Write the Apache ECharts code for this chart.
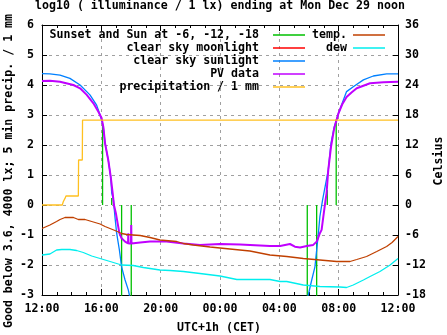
<!DOCTYPE html>
<html>
<head>
<meta charset="utf-8">
<script src="https://cdn.jsdelivr.net/npm/echarts@6/dist/echarts.min.js"></script>
<style>
  html, body { margin: 0; padding: 0; background: #fff; }
  #chart { width: 447px; height: 335px; }
</style>
</head>
<body>
<div id="chart"></div>
<script>
// Times are local clock times (CET) from Sun noon to Mon noon.
const sunTimes = ['16:05', '16:42', '17:22', '18:01', '05:53', '06:31', '07:14', '07:50'];
const sunTops  = [2.65, 0.23, -3.5, -3.5, -3.5, -3.5, 0.5, 2.85];

const moonTimes = [];
const moonLux = [];

const clearSunTimes = ['12:00','12:32','13:13','13:53','14:34','15:14','15:41','15:55','16:08','16:15','16:28','16:38','16:42','16:49','16:55','17:02','17:13','17:22','17:36','17:49','17:56','18:30',
  '05:20','05:44','05:57','06:11','06:24','06:31','06:38','06:44','06:55','07:18','07:29','07:42','07:59','08:19','08:32','08:59','09:40','10:20','11:14','12:00'];
const clearSunLux = [4.38,4.37,4.33,4.22,4.0,3.67,3.33,3.0,2.61,2.06,1.5,0.94,0.4,0.17,-0.39,-0.94,-1.5,-2.06,-2.5,-2.83,-3.1,-4.5,
  -4.5,-3.6,-3.0,-2.5,-2.06,-1.5,-0.94,-0.39,0.17,1.17,2.06,2.6,3.05,3.5,3.78,3.94,4.17,4.3,4.37,4.37];

const pvTimes = ['12:00','12:32','13:13','14:07','14:34','15:01','15:28','15:48','16:01','16:08','16:15','16:28','16:38','16:46','16:51','16:59','17:06','17:13','17:22','17:36','17:44',
  '17:48','17:49','17:50','18:00','18:01','18:02','18:37','19:17','20:24','21:32','22:39','00:00','01:21','02:42','03:22','04:03','04:43','05:03','05:24','05:51','06:17','06:31','06:37','06:44','06:51','06:58','07:07','07:11','07:18','07:29','07:42','07:59','08:14','08:32','08:52','09:13','10:07','11:01','12:00'];
const pvLux = [4.13,4.14,4.11,4.0,3.89,3.67,3.39,3.11,2.9,2.61,2.06,1.5,0.94,0.39,0.0,-0.28,-0.61,-0.94,-1.11,-1.22,-1.28,
  -1.28,-0.94,-1.28,-1.28,-0.67,-1.28,-1.25,-1.22,-1.22,-1.28,-1.33,-1.3,-1.32,-1.35,-1.37,-1.37,-1.3,-1.39,-1.42,-1.37,-1.33,-1.22,-1.1,-0.94,-0.83,-0.39,0.17,0.39,1.17,1.94,2.56,3.05,3.35,3.6,3.75,3.89,4.06,4.09,4.11];

const precipTimes = ['12:00','13:22','13:26','13:33','13:37','14:27','14:28','14:43','14:44','12:00'];
const precipMm = [0, 0, 0.11, 0.22, 0.3, 0.3, 1.5, 1.5, 2.83, 2.83];

const tempTimes = ['12:00','12:32','12:59','13:13','13:33','14:07','14:27','14:54','15:21','15:55','16:15','16:35','16:55','17:22','17:43','18:37','19:17','19:57','21:05','21:32','22:12','23:20','00:40','02:01','03:22','04:30','05:37','06:44','07:52','08:46','09:13','09:53','10:34','11:14','11:36','12:00'];
const tempC = [-4.7,-4.0,-3.3,-2.9,-2.5,-2.5,-2.9,-2.9,-3.3,-3.8,-4.3,-4.7,-5.1,-5.7,-5.9,-6.1,-6.5,-7.0,-7.3,-7.7,-8.0,-8.4,-8.8,-9.2,-10.0,-10.3,-10.7,-11.0,-11.3,-11.3,-10.9,-10.3,-9.3,-8.3,-7.5,-6.3];

const dewTimes = ['12:00','12:32','12:59','13:20','13:53','14:20','14:47','15:21','15:55','16:22','17:02','17:22','18:09','18:50','19:17','19:57','20:38','21:32','22:39','00:00','01:08','03:22','04:03','04:30','05:37','06:44','08:05','08:32','08:59','09:40','10:07','10:47','11:28','12:00'];
const dewC = [-10.0,-9.8,-9.0,-8.9,-8.9,-9.1,-9.5,-10.2,-10.7,-11.1,-11.7,-12.0,-12.1,-12.5,-12.7,-13.0,-13.1,-13.3,-13.7,-14.2,-14.9,-14.9,-15.3,-15.3,-16.0,-16.3,-16.4,-16.5,-16.0,-15.0,-14.3,-13.3,-12.0,-10.7];

const xTicksEvery = 4; // hours between labelled ticks

// Clock strings -> hours after the starting noon, kept increasing across midnight.
function toHours(times) {
  let prev = -1;
  return times.map(t => {
    const [h, m] = t.split(':').map(Number);
    let v = ((h - 12 + 24) % 24) + m / 60;
    while (v < prev) v += 24;
    prev = v;
    return v;
  });
}
function pairs(times, vals) {
  const hs = toHours(times);
  return hs.map((h, i) => [h, vals[i]]);
}
function sunSegments() {
  const hs = toHours(sunTimes);
  const out = [];
  hs.forEach((h, i) => { out.push([h, 0], [h, sunTops[i]], [h, '-']); });
  return out;
}

const FONT = 'DejaVu Sans Mono';
const FONT_CSS = 'bold 11.6px "' + FONT + '"';
const txt = { fontFamily: FONT, fontWeight: 'bold', fontSize: 11.6, color: '#000' };

const COLORS = {
  sun: '#00c000', moon: '#ff0000', clear: '#0080ff', pv: '#c000ff',
  precip: '#ffc020', temp: '#c04000', dew: '#00eeee'
};
const gridLine = { show: true, lineStyle: { color: '#a0a0a0', type: [3, 4], width: 1 } };

const chart = echarts.init(document.getElementById('chart'), null, { renderer: 'canvas' });

const legendRows = [
  ['Sunset and Sun at -6, -12, -18', COLORS.sun],
  ['clear sky moonlight', COLORS.moon],
  ['clear sky sunlight', COLORS.clear],
  ['PV data', COLORS.pv],
  ['precipitation / 1 mm', COLORS.precip]
];
const legendRows2 = [['temp.', COLORS.temp], ['dew', COLORS.dew]];
const legendGraphics = [];
function addLegend(rows, textRight, lineX0, lineX1) {
  rows.forEach((r, i) => {
    const y = 35 + i * 13;
    legendGraphics.push({
      type: 'text', x: textRight, y: y, z: 100,
      style: { text: r[0], align: 'right', verticalAlign: 'middle', fill: '#000', font: FONT_CSS }
    });
    legendGraphics.push({
      type: 'line', z: 100, shape: { x1: lineX0, y1: y, x2: lineX1, y2: y },
      style: { stroke: r[1], lineWidth: 1.5 }
    });
  });
}
addLegend(legendRows, 259, 273, 305);
addLegend(legendRows2, 347, 353, 385);

function textAt(x, y, s, rot) {
  return { type: 'text', x: x, y: y, rotation: rot || 0,
    style: { text: s, align: 'center', verticalAlign: 'middle', fill: '#000', font: FONT_CSS } };
}

const axisLineBlack = { show: true, onZero: false, lineStyle: { color: '#000', width: 1 } };

const option = {
  animation: false,
  backgroundColor: '#fff',
  textStyle: txt,
  grid: { left: 42, top: 25, right: 49, bottom: 40 },
  xAxis: [{
    type: 'value', min: 0, max: 24, interval: xTicksEvery, position: 'bottom',
    axisLine: axisLineBlack,
    axisTick: { show: true, inside: true, length: 6, lineStyle: { color: '#000' } },
    minorTick: { show: true, splitNumber: 4, length: 3, lineStyle: { color: '#000' } },
    axisLabel: Object.assign({ margin: 8, formatter: v => String((12 + v) % 24).padStart(2, '0') + ':00' }, txt),
    splitLine: gridLine
  }, {
    type: 'value', min: 0, max: 24, interval: xTicksEvery, position: 'top',
    axisLine: axisLineBlack,
    axisTick: { show: true, inside: true, length: 6, lineStyle: { color: '#000' } },
    minorTick: { show: true, splitNumber: 4, length: 3, lineStyle: { color: '#000' } },
    axisLabel: { show: false }, splitLine: { show: false }
  }],
  yAxis: [{
    type: 'value', min: -3, max: 6, interval: 1, position: 'left',
    axisLine: axisLineBlack,
    axisTick: { show: true, inside: true, length: 5, lineStyle: { color: '#000' } },
    axisLabel: Object.assign({ margin: 8 }, txt),
    splitLine: gridLine
  }, {
    type: 'value', min: -18, max: 36, interval: 6, position: 'right',
    axisLine: axisLineBlack,
    axisTick: { show: true, inside: true, length: 5, lineStyle: { color: '#000' } },
    axisLabel: Object.assign({ margin: 7 }, txt),
    splitLine: { show: false }
  }],
  graphic: [
    textAt(220, 6, 'log10 ( illuminance / 1 lx) ending at Mon Dec 29 noon'),
    textAt(219, 328, 'UTC+1h (CET)'),
    textAt(9, 171, 'Good below 3.6, 4000 lx; 5 min precip. / 1 mm', Math.PI / 2),
    textAt(439, 161, 'Celsius', Math.PI / 2)
  ].concat(legendGraphics),
  series: [
    { name: 'Sunset and Sun at -6, -12, -18', type: 'line', data: sunSegments(), showSymbol: false,
      connectNulls: false, lineStyle: { color: COLORS.sun, width: 1.3 }, z: 2 },
    { name: 'clear sky moonlight', type: 'line', data: pairs(moonTimes, moonLux), showSymbol: false,
      lineStyle: { color: COLORS.moon, width: 1.3 }, z: 2 },
    { name: 'clear sky sunlight', type: 'line', data: pairs(clearSunTimes, clearSunLux), showSymbol: false,
      lineStyle: { color: COLORS.clear, width: 1.3 }, z: 3 },
    { name: 'PV data', type: 'line', data: pairs(pvTimes, pvLux), showSymbol: false,
      lineStyle: { color: COLORS.pv, width: 2 }, z: 4 },
    { name: 'precipitation / 1 mm', type: 'line', data: pairs(precipTimes, precipMm), showSymbol: false,
      lineStyle: { color: COLORS.precip, width: 1.3 }, z: 5 },
    { name: 'temp.', type: 'line', yAxisIndex: 1, data: pairs(tempTimes, tempC), showSymbol: false,
      lineStyle: { color: COLORS.temp, width: 1.3 }, z: 6 },
    { name: 'dew', type: 'line', yAxisIndex: 1, data: pairs(dewTimes, dewC), showSymbol: false,
      lineStyle: { color: COLORS.dew, width: 1.3 }, z: 7 }
  ]
};
chart.setOption(option);
</script>
</body>
</html>
